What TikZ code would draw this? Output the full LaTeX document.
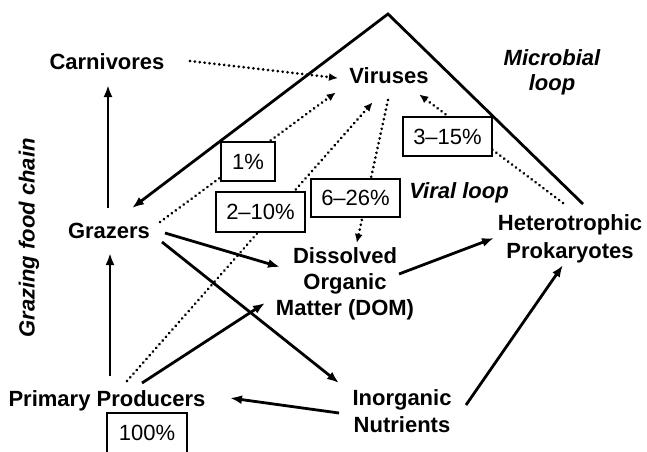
\documentclass[tikz,border=0pt]{standalone}
\usepackage{fontspec}
\setmainfont{Liberation Sans}
\usetikzlibrary{arrows.meta,calc}
\begin{document}
\begin{tikzpicture}[x=1pt,y=-1pt,
  lbl/.style={font=\bfseries\fontsize{22}{26}\selectfont, inner sep=0pt, align=center, anchor=base},
  itl/.style={font=\bfseries\itshape\fontsize{22}{25}\selectfont, inner sep=0pt, align=center, anchor=base},
  pct/.style={draw, line width=1.9pt, fill=white, inner sep=0pt, font=\fontsize{22}{26}\selectfont},
  flow/.style={line width=2.8pt, -{Latex[length=12pt,width=9pt]}},
  vflow/.style={line width=3pt, line cap=round, dash pattern=on 0.01pt off 4.9pt, -{Latex[length=9pt,width=8pt]}, shorten >=-1pt},
  loopline/.style={line width=2.8pt}]
\useasboundingbox (0,0) rectangle (647,451);
% labels (base anchor = baseline of the last line)
\node[lbl] (carn) at (107,69) {Carnivores};
\node[lbl] (vir) at (389,83) {Viruses};
\node[lbl] (grz) at (109,238) {Grazers};
\node[lbl] (dom) at (345,315) {Dissolved\\Organic\\Matter (DOM)};
\node[lbl, font=\bfseries\fontsize{22}{28}\selectfont] (het) at (570,258) {Heterotrophic\\Prokaryotes};
\node[lbl] (pp) at (107,406) {Primary Producers};
\node[lbl, font=\bfseries\fontsize{22}{27}\selectfont] (inorg) at (402,432) {Inorganic\\Nutrients};
\node[itl] (micro) at (552,90) {Microbial\\loop};
\node[itl] (viral) at (459,198) {Viral loop};
\node[itl, rotate=90, anchor=center] (graz) at (29,238) {Grazing food chain};
% microbial loop triangle
\coordinate (peak) at (388,14);
\coordinate (rend) at (583,204);
\draw[loopline, -{Latex[length=12pt,width=9pt]}] (rend) -- (peak) -- ($(grz.base)+(23,-30)$);
% solid flows
\draw[flow] ($(grz.base)+(-1,-30)$) -- ($(carn.base)+(1,16)$);
\draw[flow] ($(pp.base)+(3,-30)$) -- ($(grz.base)+(1,15)$);
\draw[flow] ($(grz.base)+(56,-5)$) -- ($(dom.base)+(-65,-48)$);
\draw[flow] ($(grz.base)+(53,4)$) -- ($(inorg.base)+(-63,-49)$);
\draw[flow] ($(pp.base)+(35,-23)$) -- ($(dom.base)+(-80,-12)$);
\draw[flow] ($(inorg.base)+(-63,-19)$) -- ($(pp.base)+(123,-8)$);
\draw[flow] ($(dom.base)+(54,-41)$) -- ($(het.base)+(-76,-20)$);
\draw[flow] ($(inorg.base)+(64,-27)$) -- ($(het.base)+(-7,7)$);
% viral flows (dotted)
\draw[vflow] ($(carn.base)+(83,-8)$) -- ($(vir.base)+(-52,-5)$);
\draw[vflow] ($(grz.base)+(51,-16)$) -- ($(vir.base)+(-54,10)$);
\draw[vflow] ($(pp.base)+(20,-25)$) -- ($(vir.base)+(-17,20)$);
\draw[vflow] ($(vir.base)+(-1,17)$) -- ($(dom.base)+(12,-73)$);
\draw[vflow] ($(het.base)+(-7,-55)$) -- ($(vir.base)+(31,12)$);
% percentage boxes
\node[pct, minimum width=54pt, minimum height=39pt] (p1) at (248,161.5) {1\%};
\node[pct, minimum width=89pt, minimum height=40pt] (p2) at (260.5,212) {2--10\%};
\node[pct, minimum width=89pt, minimum height=38pt] (p6) at (355.5,198) {6--26\%};
\node[pct, minimum width=89pt, minimum height=39pt] (p3) at (447.5,136.5) {3--15\%};
\node[pct, minimum width=80pt, minimum height=40pt] (p100) at (147,433) {100\%};
\end{tikzpicture}
\end{document}
